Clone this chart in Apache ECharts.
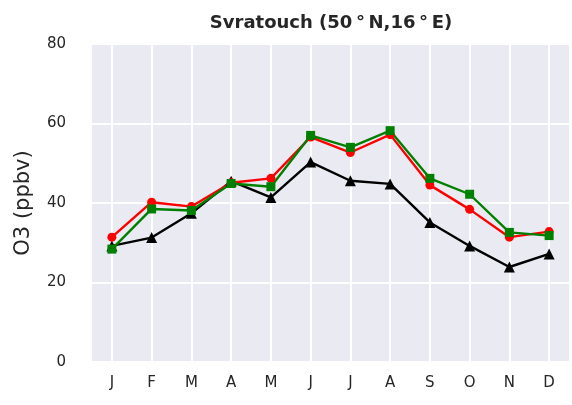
<!DOCTYPE html>
<html>
<head>
<meta charset="utf-8">
<script src="https://cdn.jsdelivr.net/npm/echarts@6/dist/echarts.min.js"></script>
<style>
    html, body {margin: 0; padding: 0; background: #fff;}
    #chart1 {width: 572px; height: 405px;}
</style>
</head>
<body>
<div id="chart1"></div>
<script>
// months shown on the x axis
var months = ['J', 'F', 'M', 'A', 'M', 'J', 'J', 'A', 'S', 'O', 'N', 'D'];

// O3 (ppbv)
var redData = [31.4, 40.2, 39.1, 45.1, 46.2, 56.6, 52.7, 57.2, 44.5, 38.4, 31.4, 32.8];
var greenData = [28.4, 38.5, 38.1, 44.9, 44.1, 57.0, 54.0, 58.2, 46.2, 42.2, 32.6, 31.8];
var blackData = [29.2, 31.3, 37.4, 45.5, 41.4, 50.3, 45.6, 44.8, 35.1, 29.2, 23.9, 27.2];

var yTicks = [0, 20, 40, 60, 80];

var txtColor = '#262626';
var fontName = 'DejaVu Sans';

function makeSeries(name, data, color, symbol, size) {
    return {
        name: name,
        type: 'line',
        data: data,
        symbol: symbol,
        symbolSize: size,
        showSymbol: true,
        lineStyle: {color: color, width: 2.4},
        itemStyle: {color: color, borderWidth: 0}
    };
}

var dom = document.getElementById('chart1');
var myChart = echarts.init(dom, null, {renderer: 'canvas'});
option = null;
option = {
    animation: false,
    backgroundColor: '#ffffff',
    title: {
        text: 'Svratouch (50\u2009\u00b0\u2009N,16\u2009\u00b0\u2009E)',
        left: 326,
        textAlign: 'center',
        top: 9,
        textStyle: {
            fontFamily: fontName,
            fontWeight: 'bold',
            fontSize: 18,
            color: txtColor
        }
    },
    grid: {
        left: 92,
        right: 3,
        top: 44,
        bottom: 43,
        show: true,
        backgroundColor: '#eaeaf2',
        borderWidth: 0
    },
    xAxis: {
        type: 'category',
        data: months,
        boundaryGap: true,
        axisLine: {show: false},
        axisTick: {show: false},
        axisLabel: {
            margin: 14,
            fontFamily: fontName,
            fontSize: 15,
            color: txtColor
        },
        splitLine: {
            show: true,
            alignWithLabel: true,
            lineStyle: {color: '#ffffff', width: 2}
        }
    },
    yAxis: {
        type: 'value',
        min: yTicks[0],
        max: yTicks[yTicks.length - 1],
        interval: 20,
        name: 'O3 (ppbv)',
        nameLocation: 'middle',
        nameGap: 58,
        nameTextStyle: {
            fontFamily: fontName,
            fontSize: 21,
            color: txtColor
        },
        axisLine: {show: false},
        axisTick: {show: false},
        axisLabel: {
            margin: 26,
            fontFamily: fontName,
            fontSize: 15,
            color: txtColor
        },
        splitLine: {
            show: true,
            lineStyle: {color: '#ffffff', width: 2}
        }
    },
    series: [
        makeSeries('black', blackData, '#000000', 'triangle', 11),
        makeSeries('red', redData, '#ff0000', 'circle', 9),
        makeSeries('green', greenData, '#008000', 'rect', 9)
    ]
};

if (option && typeof option === "object") {
    myChart.setOption(option, true);
}
</script>
</body>
</html>
